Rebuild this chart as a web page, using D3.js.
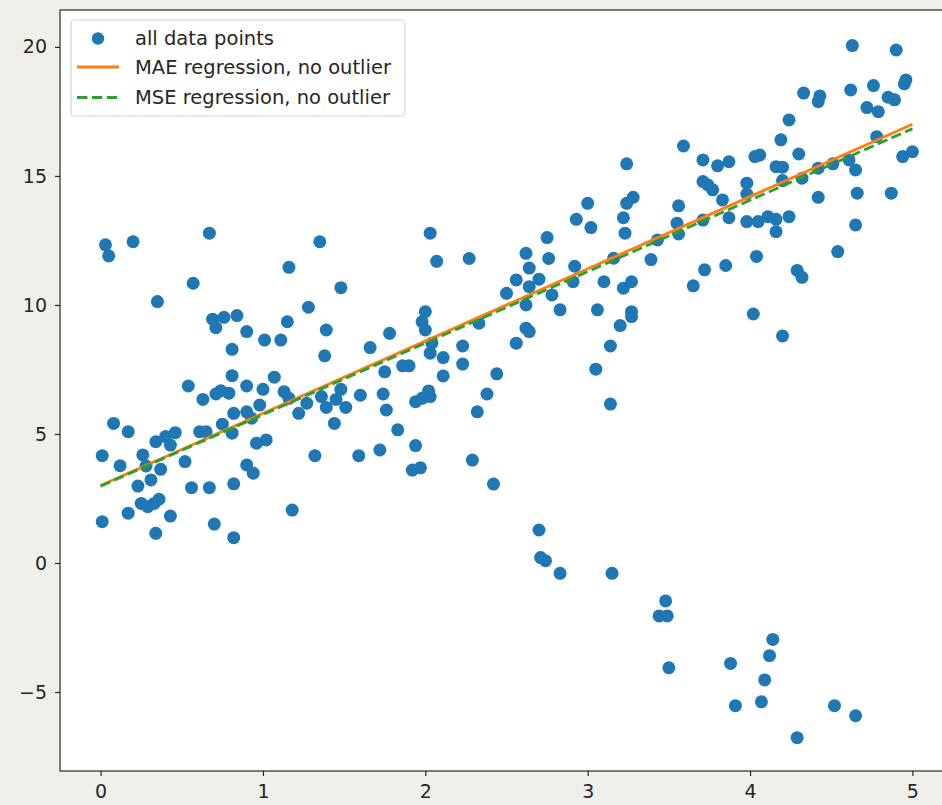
<!DOCTYPE html>
<html>
<head>
<meta charset="utf-8">
<script src="https://cdn.jsdelivr.net/npm/d3@7"></script>
<style>
  html, body { margin: 0; padding: 0; background: #f0f0eb; }
  svg { display: block; }
  text { font-family: "DejaVu Sans", sans-serif; fill: #262626; }
</style>
</head>
<body>
<svg id="chart" width="942" height="805"></svg>
<script>
// scatter points (x and y kept in the same order)
const dataX = [
  0.03, 0.05, 0.20, 0.67, 1.35, 1.16, 0.57, 0.35, 1.48, 0.69,
  0.76, 0.84, 0.71, 0.90, 1.28, 1.15, 1.01, 1.11, 1.39, 0.81,
  1.38, 0.81, 0.54, 1.07, 0.90, 1.00, 0.71, 0.74, 0.79, 0.63,
  1.13, 1.16, 1.27, 1.48, 1.36, 1.45, 1.39, 1.51, 1.60, 1.22,
  1.44, 0.82, 0.90, 0.98, 0.93, 0.75, 0.81, 0.61, 0.65, 0.96,
  1.02, 0.46, 0.40, 0.34, 0.43, 0.08, 0.17, 0.01, 0.12, 0.26,
  0.28, 0.37, 0.52, 0.31, 0.23, 0.56, 0.67, 0.82, 0.90, 0.94,
  1.32, 0.25, 0.29, 0.33, 0.36, 0.17, 0.01, 0.43, 0.70, 1.18,
  0.34, 0.82, 2.64, 2.56, 2.70, 2.64, 2.50, 2.92, 2.91, 2.78,
  2.83, 2.62, 2.62, 2.64, 2.56, 3.10, 3.22, 3.27, 3.06, 3.27,
  3.27, 3.20, 3.14, 3.05, 3.14, 2.00, 1.98, 2.00, 1.78, 1.66,
  2.04, 2.03, 2.11, 2.33, 2.23, 2.23, 2.11, 1.86, 1.90, 1.75,
  2.44, 1.74, 1.76, 1.94, 2.02, 2.03, 1.98, 2.38, 2.32, 1.83,
  1.94, 1.92, 1.97, 1.59, 1.72, 2.29, 2.42, 2.03, 2.07, 2.27,
  2.62, 2.75, 2.76, 2.93, 3.00, 3.02, 3.24, 3.22, 3.23, 3.24,
  3.28, 3.16, 3.39, 4.63, 4.90, 4.96, 4.95, 4.62, 4.76, 4.33,
  4.43, 4.42, 4.72, 4.79, 4.85, 4.89, 4.24, 4.19, 4.30, 4.78,
  4.94, 5.00, 3.59, 3.71, 3.80, 3.87, 4.03, 4.06, 4.16, 4.20,
  4.20, 4.32, 4.42, 4.51, 4.61, 4.65, 4.66, 4.87, 4.42, 4.65,
  4.54, 3.71, 3.74, 3.77, 3.83, 3.98, 3.98, 3.56, 3.55, 3.56,
  3.71, 3.87, 3.98, 4.05, 4.11, 4.16, 4.24, 4.16, 4.04, 3.85,
  3.72, 4.29, 3.43, 4.32, 3.65, 4.02, 4.20, 2.70, 2.71, 2.74,
  2.83, 3.15, 3.48, 3.44, 3.49, 3.50, 3.88, 3.91, 4.14, 4.12,
  4.09, 4.07, 4.29, 4.52, 4.65
];
const dataY = [
  12.33, 11.90, 12.45, 12.78, 12.45, 11.46, 10.84, 10.13, 10.67, 9.45,
  9.52, 9.59, 9.12, 8.97, 9.91, 9.35, 8.64, 8.64, 9.03, 8.28,
  8.03, 7.26, 6.86, 7.20, 6.86, 6.73, 6.55, 6.68, 6.58, 6.34,
  6.64, 6.38, 6.19, 6.73, 6.45, 6.34, 6.03, 6.03, 6.50, 5.80,
  5.41, 5.80, 5.86, 6.12, 5.61, 5.38, 5.03, 5.09, 5.09, 4.64,
  4.77, 5.05, 4.90, 4.70, 4.57, 5.41, 5.09, 4.16, 3.77, 4.19,
  3.76, 3.63, 3.93, 3.22, 2.98, 2.92, 2.92, 3.07, 3.80, 3.48,
  4.16, 2.31, 2.18, 2.31, 2.47, 1.93, 1.60, 1.82, 1.51, 2.05,
  1.15, 0.98, 11.43, 10.97, 11.00, 10.71, 10.45, 11.50, 10.90, 10.39,
  9.81, 10.00, 9.10, 8.97, 8.52, 10.90, 10.65, 10.90, 9.81, 9.74,
  9.55, 9.20, 8.41, 7.51, 6.16, 9.74, 9.35, 9.03, 8.90, 8.35,
  8.52, 8.13, 7.96, 9.29, 8.41, 7.71, 7.25, 7.64, 7.64, 7.41,
  7.33, 6.55, 5.93, 6.25, 6.67, 6.45, 6.38, 6.55, 5.86, 5.16,
  4.55, 3.60, 3.69, 4.16, 4.38, 3.99, 3.06, 12.78, 11.69, 11.80,
  12.00, 12.61, 11.80, 13.32, 13.94, 13.00, 15.47, 13.38, 12.78, 13.94,
  14.17, 11.81, 11.76, 20.05, 19.88, 18.72, 18.57, 18.33, 18.50, 18.21,
  18.10, 17.88, 17.65, 17.49, 18.05, 17.95, 17.17, 16.40, 15.85, 16.52,
  15.75, 15.94, 16.16, 15.62, 15.39, 15.55, 15.75, 15.81, 15.36, 15.34,
  14.82, 14.91, 15.30, 15.47, 15.62, 15.23, 14.33, 14.33, 14.17, 13.10,
  12.07, 14.78, 14.65, 14.46, 14.07, 14.72, 14.30, 13.84, 13.17, 12.75,
  13.29, 13.38, 13.23, 13.23, 13.42, 13.32, 13.42, 12.84, 11.88, 11.53,
  11.36, 11.34, 12.52, 11.07, 10.74, 9.65, 8.80, 1.28, 0.21, 0.09,
  -0.40, -0.40, -1.47, -2.05, -2.05, -4.06, -3.89, -5.53, -2.96, -3.59,
  -4.53, -5.38, -6.77, -5.53, -5.92
];

// the two fitted lines
const fitX = [0, 5];
const maeY = [3.0, 17.0];
const mseY = [2.98, 16.83];

const xTicks = [0, 1, 2, 3, 4, 5];
const yTicks = [-5, 0, 5, 10, 15, 20];
const legendLabels = ["all data points", "MAE regression, no outlier", "MSE regression, no outlier"];

const blue = "#1f77b4", orange = "#ff7f0e", green = "#2ca02c";

// plot box, right edge runs past the window like in the screenshot
const boxLeft = 60, boxTop = 10, plotW = 893, plotH = 761;

const svg = d3.select("#chart");

const x = d3.scaleLinear().domain([-0.25, 5.25]).range([boxLeft, boxLeft + plotW]);
const y = d3.scaleLinear().domain([-8.06, 21.43]).range([boxTop + plotH, boxTop]);

svg.append("rect")
  .attr("x", boxLeft).attr("y", boxTop)
  .attr("width", plotW).attr("height", plotH)
  .attr("fill", "#fff");

const pts = d3.range(dataX.length).map(i => ({ x: dataX[i], y: dataY[i] }));

svg.append("g")
  .selectAll("circle")
  .data(pts)
  .join("circle")
  .attr("cx", d => x(d.x))
  .attr("cy", d => y(d.y))
  .attr("r", 6.5)
  .attr("fill", blue);

const line = d3.line()
  .x(d => x(d[0]))
  .y(d => y(d[1]));

svg.append("path")
  .datum(fitX.map((v, i) => [v, maeY[i]]))
  .attr("fill", "none")
  .attr("stroke", orange)
  .attr("stroke-width", 2.8)
  .attr("d", line);

svg.append("path")
  .datum(fitX.map((v, i) => [v, mseY[i]]))
  .attr("fill", "none")
  .attr("stroke", green)
  .attr("stroke-width", 2.8)
  .attr("stroke-dasharray", "10.4,4.5")
  .attr("d", line);

// axes
const fmt = d3.format("d");

const gx = svg.append("g")
  .attr("transform", `translate(0,${boxTop + plotH})`)
  .call(d3.axisBottom(x).tickValues(xTicks).tickFormat(fmt).tickSize(5).tickPadding(9).tickSizeOuter(0));

const gy = svg.append("g")
  .attr("transform", `translate(${boxLeft},0)`)
  .call(d3.axisLeft(y).tickValues(yTicks).tickFormat(fmt).tickSize(5).tickPadding(8).tickSizeOuter(0));

[gx, gy].forEach(g => {
  g.select(".domain").remove();
  g.selectAll(".tick line").attr("stroke", "#262626").attr("stroke-width", 1.2);
  g.selectAll(".tick text")
    .attr("fill", "#262626")
    .style("font-family", "'DejaVu Sans', sans-serif")
    .style("font-size", "19px");
});

// spines
svg.append("rect")
  .attr("x", boxLeft).attr("y", boxTop)
  .attr("width", plotW).attr("height", plotH)
  .attr("fill", "none")
  .attr("stroke", "#262626")
  .attr("stroke-width", 1.2);

// legend
const lg = svg.append("g");
lg.append("rect")
  .attr("x", 71).attr("y", 20)
  .attr("width", 334).attr("height", 96)
  .attr("rx", 4)
  .attr("fill", "#fff").attr("fill-opacity", 0.8)
  .attr("stroke", "#d5d5d5").attr("stroke-width", 1.2);

const rowY = [38.5, 67, 97.5];

lg.append("circle")
  .attr("cx", 98).attr("cy", rowY[0]).attr("r", 6.2)
  .attr("fill", blue);

lg.append("line")
  .attr("x1", 77).attr("x2", 119)
  .attr("y1", rowY[1]).attr("y2", rowY[1])
  .attr("stroke", orange).attr("stroke-width", 2.8);

lg.append("line")
  .attr("x1", 77).attr("x2", 119)
  .attr("y1", rowY[2]).attr("y2", rowY[2])
  .attr("stroke", green).attr("stroke-width", 2.8)
  .attr("stroke-dasharray", "10.4,4.5");

lg.selectAll("text.lab")
  .data(legendLabels)
  .join("text")
  .attr("class", "lab")
  .attr("x", 135)
  .attr("y", (d, i) => rowY[i])
  .attr("dy", "0.35em")
  .style("font-size", "19.5px")
  .text(d => d);
</script>
</body>
</html>
